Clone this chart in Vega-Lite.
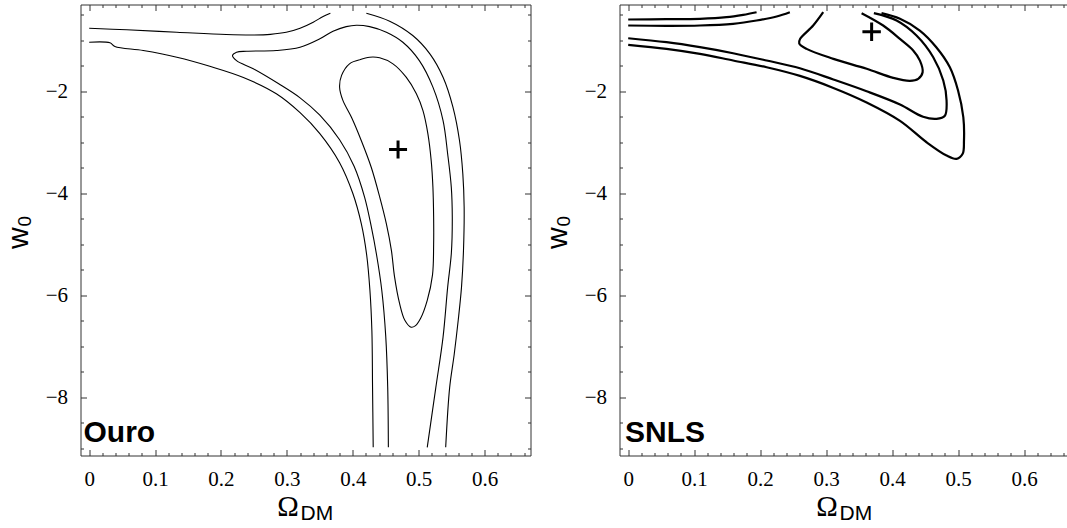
{
  "$schema": "https://vega.github.io/schema/vega-lite/v6.json",
  "background": "white",
  "padding": {"left": 3.5, "top": 3.5, "right": 0, "bottom": 0},
  "bounds": "flush",
  "spacing": 89,
  "datasets": {
    "contours": [
      {"panel":"Ouro","curve":"a","i":0,"x":0,"y":-0.765},
      {"panel":"Ouro","curve":"a","i":1,"x":0.057,"y":-0.796},
      {"panel":"Ouro","curve":"a","i":2,"x":0.133,"y":-0.843},
      {"panel":"Ouro","curve":"a","i":3,"x":0.208,"y":-0.888},
      {"panel":"Ouro","curve":"a","i":4,"x":0.25,"y":-0.897},
      {"panel":"Ouro","curve":"a","i":5,"x":0.275,"y":-0.885},
      {"panel":"Ouro","curve":"a","i":6,"x":0.299,"y":-0.845},
      {"panel":"Ouro","curve":"a","i":7,"x":0.32,"y":-0.765},
      {"panel":"Ouro","curve":"a","i":8,"x":0.34,"y":-0.647},
      {"panel":"Ouro","curve":"a","i":9,"x":0.355,"y":-0.535},
      {"panel":"Ouro","curve":"a","i":10,"x":0.366,"y":-0.47},

      {"panel":"Ouro","curve":"b","i":0,"x":0,"y":-1.039},
      {"panel":"Ouro","curve":"b","i":1,"x":0.0315,"y":-1.051},
      {"panel":"Ouro","curve":"b","i":2,"x":0.039,"y":-1.124},
      {"panel":"Ouro","curve":"b","i":3,"x":0.082,"y":-1.202},
      {"panel":"Ouro","curve":"b","i":4,"x":0.133,"y":-1.333},
      {"panel":"Ouro","curve":"b","i":5,"x":0.183,"y":-1.51},
      {"panel":"Ouro","curve":"b","i":6,"x":0.234,"y":-1.73},
      {"panel":"Ouro","curve":"b","i":7,"x":0.284,"y":-2.05},
      {"panel":"Ouro","curve":"b","i":8,"x":0.32,"y":-2.42},
      {"panel":"Ouro","curve":"b","i":9,"x":0.35,"y":-2.83},
      {"panel":"Ouro","curve":"b","i":10,"x":0.38,"y":-3.4},
      {"panel":"Ouro","curve":"b","i":11,"x":0.4,"y":-4.0},
      {"panel":"Ouro","curve":"b","i":12,"x":0.413,"y":-4.6},
      {"panel":"Ouro","curve":"b","i":13,"x":0.421,"y":-5.2},
      {"panel":"Ouro","curve":"b","i":14,"x":0.426,"y":-5.9},
      {"panel":"Ouro","curve":"b","i":15,"x":0.429,"y":-6.7},
      {"panel":"Ouro","curve":"b","i":16,"x":0.43,"y":-7.8},
      {"panel":"Ouro","curve":"b","i":17,"x":0.431,"y":-8.98},

      {"panel":"Ouro","curve":"c","i":0,"x":0.4206,"y":-0.471},
      {"panel":"Ouro","curve":"c","i":1,"x":0.456,"y":-0.627},
      {"panel":"Ouro","curve":"c","i":2,"x":0.491,"y":-0.908},
      {"panel":"Ouro","curve":"c","i":3,"x":0.517,"y":-1.267},
      {"panel":"Ouro","curve":"c","i":4,"x":0.537,"y":-1.725},
      {"panel":"Ouro","curve":"c","i":5,"x":0.552,"y":-2.31},
      {"panel":"Ouro","curve":"c","i":6,"x":0.562,"y":-2.97},
      {"panel":"Ouro","curve":"c","i":7,"x":0.567,"y":-3.62},
      {"panel":"Ouro","curve":"c","i":8,"x":0.569,"y":-4.27},
      {"panel":"Ouro","curve":"c","i":9,"x":0.568,"y":-5.12},
      {"panel":"Ouro","curve":"c","i":10,"x":0.565,"y":-5.84},
      {"panel":"Ouro","curve":"c","i":11,"x":0.56,"y":-6.49},
      {"panel":"Ouro","curve":"c","i":12,"x":0.554,"y":-7.15},
      {"panel":"Ouro","curve":"c","i":13,"x":0.547,"y":-7.81},
      {"panel":"Ouro","curve":"c","i":14,"x":0.541,"y":-8.98},

      {"panel":"Ouro","curve":"d","i":0,"x":0.454,"y":-8.98},
      {"panel":"Ouro","curve":"d","i":1,"x":0.453,"y":-7.8},
      {"panel":"Ouro","curve":"d","i":2,"x":0.45,"y":-6.8},
      {"panel":"Ouro","curve":"d","i":3,"x":0.444,"y":-5.9},
      {"panel":"Ouro","curve":"d","i":4,"x":0.436,"y":-5.2},
      {"panel":"Ouro","curve":"d","i":5,"x":0.428,"y":-4.65},
      {"panel":"Ouro","curve":"d","i":6,"x":0.418,"y":-4.08},
      {"panel":"Ouro","curve":"d","i":7,"x":0.402,"y":-3.47},
      {"panel":"Ouro","curve":"d","i":8,"x":0.38,"y":-2.95},
      {"panel":"Ouro","curve":"d","i":9,"x":0.35,"y":-2.47},
      {"panel":"Ouro","curve":"d","i":10,"x":0.32,"y":-2.13},
      {"panel":"Ouro","curve":"d","i":11,"x":0.287,"y":-1.85},
      {"panel":"Ouro","curve":"d","i":12,"x":0.249,"y":-1.56},
      {"panel":"Ouro","curve":"d","i":13,"x":0.2236,"y":-1.4},
      {"panel":"Ouro","curve":"d","i":14,"x":0.2175,"y":-1.3},
      {"panel":"Ouro","curve":"d","i":15,"x":0.2236,"y":-1.235},
      {"panel":"Ouro","curve":"d","i":16,"x":0.239,"y":-1.216},
      {"panel":"Ouro","curve":"d","i":17,"x":0.284,"y":-1.202},
      {"panel":"Ouro","curve":"d","i":18,"x":0.32,"y":-1.137},
      {"panel":"Ouro","curve":"d","i":19,"x":0.35,"y":-0.973},
      {"panel":"Ouro","curve":"d","i":20,"x":0.37,"y":-0.824},
      {"panel":"Ouro","curve":"d","i":21,"x":0.39,"y":-0.733},
      {"panel":"Ouro","curve":"d","i":22,"x":0.4055,"y":-0.706},
      {"panel":"Ouro","curve":"d","i":23,"x":0.4256,"y":-0.733},
      {"panel":"Ouro","curve":"d","i":24,"x":0.451,"y":-0.843},
      {"panel":"Ouro","curve":"d","i":25,"x":0.476,"y":-1.04},
      {"panel":"Ouro","curve":"d","i":26,"x":0.501,"y":-1.4},
      {"panel":"Ouro","curve":"d","i":27,"x":0.5216,"y":-1.92},
      {"panel":"Ouro","curve":"d","i":28,"x":0.537,"y":-2.575},
      {"panel":"Ouro","curve":"d","i":29,"x":0.544,"y":-3.23},
      {"panel":"Ouro","curve":"d","i":30,"x":0.5495,"y":-3.88},
      {"panel":"Ouro","curve":"d","i":31,"x":0.551,"y":-4.47},
      {"panel":"Ouro","curve":"d","i":32,"x":0.5496,"y":-5.17},
      {"panel":"Ouro","curve":"d","i":33,"x":0.544,"y":-5.84},
      {"panel":"Ouro","curve":"d","i":34,"x":0.537,"y":-6.82},
      {"panel":"Ouro","curve":"d","i":35,"x":0.526,"y":-7.81},
      {"panel":"Ouro","curve":"d","i":36,"x":0.513,"y":-8.98},

      {"panel":"Ouro","curve":"e","i":0,"x":0.4105,"y":-1.384},
      {"panel":"Ouro","curve":"e","i":1,"x":0.4256,"y":-1.333},
      {"panel":"Ouro","curve":"e","i":2,"x":0.4408,"y":-1.345},
      {"panel":"Ouro","curve":"e","i":3,"x":0.461,"y":-1.463},
      {"panel":"Ouro","curve":"e","i":4,"x":0.481,"y":-1.725},
      {"panel":"Ouro","curve":"e","i":5,"x":0.4965,"y":-2.05},
      {"panel":"Ouro","curve":"e","i":6,"x":0.5065,"y":-2.38},
      {"panel":"Ouro","curve":"e","i":7,"x":0.514,"y":-2.835},
      {"panel":"Ouro","curve":"e","i":8,"x":0.519,"y":-3.36},
      {"panel":"Ouro","curve":"e","i":9,"x":0.5216,"y":-3.88},
      {"panel":"Ouro","curve":"e","i":10,"x":0.5227,"y":-4.47},
      {"panel":"Ouro","curve":"e","i":11,"x":0.5227,"y":-5.0},
      {"panel":"Ouro","curve":"e","i":12,"x":0.521,"y":-5.6},
      {"panel":"Ouro","curve":"e","i":13,"x":0.513,"y":-6.1},
      {"panel":"Ouro","curve":"e","i":14,"x":0.503,"y":-6.45},
      {"panel":"Ouro","curve":"e","i":15,"x":0.4947,"y":-6.6},
      {"panel":"Ouro","curve":"e","i":16,"x":0.4885,"y":-6.625},
      {"panel":"Ouro","curve":"e","i":17,"x":0.479,"y":-6.49},
      {"panel":"Ouro","curve":"e","i":18,"x":0.471,"y":-6.16},
      {"panel":"Ouro","curve":"e","i":19,"x":0.4634,"y":-5.64},
      {"panel":"Ouro","curve":"e","i":20,"x":0.4586,"y":-5.12},
      {"panel":"Ouro","curve":"e","i":21,"x":0.451,"y":-4.6},
      {"panel":"Ouro","curve":"e","i":22,"x":0.441,"y":-4.08},
      {"panel":"Ouro","curve":"e","i":23,"x":0.428,"y":-3.49},
      {"panel":"Ouro","curve":"e","i":24,"x":0.413,"y":-2.97},
      {"panel":"Ouro","curve":"e","i":25,"x":0.398,"y":-2.51},
      {"panel":"Ouro","curve":"e","i":26,"x":0.385,"y":-2.18},
      {"panel":"Ouro","curve":"e","i":27,"x":0.38,"y":-1.92},
      {"panel":"Ouro","curve":"e","i":28,"x":0.383,"y":-1.69},
      {"panel":"Ouro","curve":"e","i":29,"x":0.395,"y":-1.463},
      {"panel":"Ouro","curve":"e","i":30,"x":0.4105,"y":-1.384},

      {"panel":"SNLS","curve":"a","i":0,"x":0.2956,"y":-0.451},
      {"panel":"SNLS","curve":"a","i":1,"x":0.2804,"y":-0.712},
      {"panel":"SNLS","curve":"a","i":2,"x":0.2607,"y":-0.973},
      {"panel":"SNLS","curve":"a","i":3,"x":0.2592,"y":-1.06},
      {"panel":"SNLS","curve":"a","i":4,"x":0.2704,"y":-1.17},
      {"panel":"SNLS","curve":"a","i":5,"x":0.311,"y":-1.365},
      {"panel":"SNLS","curve":"a","i":6,"x":0.3615,"y":-1.56},
      {"panel":"SNLS","curve":"a","i":7,"x":0.4017,"y":-1.737},
      {"panel":"SNLS","curve":"a","i":8,"x":0.427,"y":-1.796},
      {"panel":"SNLS","curve":"a","i":9,"x":0.4396,"y":-1.757},
      {"panel":"SNLS","curve":"a","i":10,"x":0.4463,"y":-1.627},
      {"panel":"SNLS","curve":"a","i":11,"x":0.4422,"y":-1.4},
      {"panel":"SNLS","curve":"a","i":12,"x":0.432,"y":-1.2},
      {"panel":"SNLS","curve":"a","i":13,"x":0.4119,"y":-0.973},
      {"panel":"SNLS","curve":"a","i":14,"x":0.3865,"y":-0.712},
      {"panel":"SNLS","curve":"a","i":15,"x":0.3538,"y":-0.47},

      {"panel":"SNLS","curve":"b","i":0,"x":0,"y":-0.712},
      {"panel":"SNLS","curve":"b","i":1,"x":0.058,"y":-0.718},
      {"panel":"SNLS","curve":"b","i":2,"x":0.1087,"y":-0.712},
      {"panel":"SNLS","curve":"b","i":3,"x":0.159,"y":-0.678},
      {"panel":"SNLS","curve":"b","i":4,"x":0.1946,"y":-0.614},
      {"panel":"SNLS","curve":"b","i":5,"x":0.225,"y":-0.535},
      {"panel":"SNLS","curve":"b","i":6,"x":0.245,"y":-0.451},

      {"panel":"SNLS","curve":"c","i":0,"x":0,"y":-0.961},
      {"panel":"SNLS","curve":"c","i":1,"x":0.058,"y":-1.039},
      {"panel":"SNLS","curve":"c","i":2,"x":0.1087,"y":-1.137},
      {"panel":"SNLS","curve":"c","i":3,"x":0.159,"y":-1.255},
      {"panel":"SNLS","curve":"c","i":4,"x":0.2098,"y":-1.398},
      {"panel":"SNLS","curve":"c","i":5,"x":0.2603,"y":-1.55},
      {"panel":"SNLS","curve":"c","i":6,"x":0.311,"y":-1.77},
      {"panel":"SNLS","curve":"c","i":7,"x":0.3614,"y":-2.0},
      {"panel":"SNLS","curve":"c","i":8,"x":0.412,"y":-2.26},
      {"panel":"SNLS","curve":"c","i":9,"x":0.447,"y":-2.5},
      {"panel":"SNLS","curve":"c","i":10,"x":0.4675,"y":-2.54},
      {"panel":"SNLS","curve":"c","i":11,"x":0.48,"y":-2.48},
      {"panel":"SNLS","curve":"c","i":12,"x":0.4826,"y":-2.18},
      {"panel":"SNLS","curve":"c","i":13,"x":0.4776,"y":-1.79},
      {"panel":"SNLS","curve":"c","i":14,"x":0.4624,"y":-1.333},
      {"panel":"SNLS","curve":"c","i":15,"x":0.437,"y":-0.908},
      {"panel":"SNLS","curve":"c","i":16,"x":0.4068,"y":-0.614},
      {"panel":"SNLS","curve":"c","i":17,"x":0.3724,"y":-0.47},

      {"panel":"SNLS","curve":"d","i":0,"x":0,"y":-0.594},
      {"panel":"SNLS","curve":"d","i":1,"x":0.058,"y":-0.588},
      {"panel":"SNLS","curve":"d","i":2,"x":0.1087,"y":-0.58},
      {"panel":"SNLS","curve":"d","i":3,"x":0.149,"y":-0.549},
      {"panel":"SNLS","curve":"d","i":4,"x":0.1743,"y":-0.502},
      {"panel":"SNLS","curve":"d","i":5,"x":0.1946,"y":-0.451},

      {"panel":"SNLS","curve":"e","i":0,"x":0,"y":-1.09},
      {"panel":"SNLS","curve":"e","i":1,"x":0.058,"y":-1.17},
      {"panel":"SNLS","curve":"e","i":2,"x":0.1087,"y":-1.268},
      {"panel":"SNLS","curve":"e","i":3,"x":0.159,"y":-1.398},
      {"panel":"SNLS","curve":"e","i":4,"x":0.2098,"y":-1.53},
      {"panel":"SNLS","curve":"e","i":5,"x":0.2603,"y":-1.7},
      {"panel":"SNLS","curve":"e","i":6,"x":0.311,"y":-1.935},
      {"panel":"SNLS","curve":"e","i":7,"x":0.3614,"y":-2.22},
      {"panel":"SNLS","curve":"e","i":8,"x":0.412,"y":-2.58},
      {"panel":"SNLS","curve":"e","i":9,"x":0.4523,"y":-3.0},
      {"panel":"SNLS","curve":"e","i":10,"x":0.4826,"y":-3.26},
      {"panel":"SNLS","curve":"e","i":11,"x":0.4978,"y":-3.325},
      {"panel":"SNLS","curve":"e","i":12,"x":0.507,"y":-3.227},
      {"panel":"SNLS","curve":"e","i":13,"x":0.509,"y":-2.967},
      {"panel":"SNLS","curve":"e","i":14,"x":0.508,"y":-2.51},
      {"panel":"SNLS","curve":"e","i":15,"x":0.5,"y":-1.986},
      {"panel":"SNLS","curve":"e","i":16,"x":0.4876,"y":-1.53},
      {"panel":"SNLS","curve":"e","i":17,"x":0.467,"y":-1.137},
      {"panel":"SNLS","curve":"e","i":18,"x":0.442,"y":-0.81},
      {"panel":"SNLS","curve":"e","i":19,"x":0.412,"y":-0.58},
      {"panel":"SNLS","curve":"e","i":20,"x":0.384,"y":-0.47}
    ],
    "best": [
      {"panel":"Ouro","x":0.4687,"y":-3.143},
      {"panel":"SNLS","x":0.369,"y":-0.835}
    ],
    "labels": [
      {"panel":"Ouro","label":"Ouro"},
      {"panel":"SNLS","label":"SNLS"}
    ]
  },
  "hconcat": [
    {
      "width": 450,
      "height": 451,
      "layer": [
        {
          "data": {"name": "contours"},
          "transform": [{"filter": "datum.panel === 'Ouro'"}],
          "mark": {"type": "line", "color": "black", "strokeWidth": 1.1, "interpolate": "catmull-rom"},
          "encoding": {
            "x": {"field": "x", "type": "quantitative", "scale": {"domain": [-0.0132, 0.6697], "nice": false, "zero": false},
              "axis": {"orient": "bottom", "values": [0,0.02,0.04,0.06,0.08,0.1,0.12,0.14,0.16,0.18,0.2,0.22,0.24,0.26,0.28,0.3,0.32,0.34,0.36,0.38,0.4,0.42,0.44,0.46,0.48,0.5,0.52,0.54,0.56,0.58,0.6,0.62,0.64,0.66],
                "labelExpr": "abs(datum.value*10 - round(datum.value*10)) < 0.001 ? format(datum.value, '.1~f') : ''",
                "tickSize": {"condition": {"test": "abs(datum.value*10 - round(datum.value*10)) < 0.001", "value": -6}, "value": -3},
                "labelFont": "Liberation Serif", "labelFontSize": 21, "labelColor": "black",
                "labelPadding": 19, "labelBaseline": "top", "labelAlign": "center",
                "title": "Ω", "titleFont": "Liberation Serif", "titleFontSize": 29, "titleFontWeight": "normal", "titleColor": "black",
                "titleX": 207, "titleY": 60, "titleAlign": "center", "titleBaseline": "alphabetic", "titleAngle": 0}},
            "y": {"field": "y", "type": "quantitative", "scale": {"domain": [-9.14, -0.3], "nice": false, "zero": false},
              "axis": {"orient": "left", "values": [-9,-8.5,-8,-7.5,-7,-6.5,-6,-5.5,-5,-4.5,-4,-3.5,-3,-2.5,-2,-1.5,-1,-0.5],
                "labelExpr": "datum.value % 2 === 0 ? replace(format(datum.value, 'd'), '-', '−') : ''",
                "tickSize": {"condition": {"test": "datum.value % 2 === 0", "value": -6}, "value": -3},
                "labelFont": "Liberation Serif", "labelFontSize": 21, "labelColor": "black",
                "labelPadding": 19, "labelAlign": "right", "labelBaseline": "middle",
                "title": "w₀", "titleFont": "Liberation Sans", "titleFontSize": 30, "titleFontWeight": "normal", "titleColor": "black",
                "titleX": -53, "titleY": 227, "titleAngle": -90, "titleAlign": "center", "titleBaseline": "alphabetic"}},
            "detail": {"field": "curve"},
            "order": {"field": "i", "type": "quantitative"}
          }
        },
        {
          "data": {"name": "best"},
          "transform": [{"filter": "datum.panel === 'Ouro'"}],
          "mark": {"type": "point", "shape": "M-1,0L1,0M0,-1L0,1", "size": 324, "filled": false, "stroke": "black", "strokeWidth": 3, "opacity": 1},
          "encoding": {
            "x": {"field": "x", "type": "quantitative", "scale": {"domain": [-0.0132, 0.6697], "nice": false, "zero": false},
              "axis": {"orient": "top", "values": [0,0.02,0.04,0.06,0.08,0.1,0.12,0.14,0.16,0.18,0.2,0.22,0.24,0.26,0.28,0.3,0.32,0.34,0.36,0.38,0.4,0.42,0.44,0.46,0.48,0.5,0.52,0.54,0.56,0.58,0.6,0.62,0.64,0.66],
                "labels": false,
                "tickSize": {"condition": {"test": "abs(datum.value*10 - round(datum.value*10)) < 0.001", "value": -6}, "value": -3},
                "title": "DM", "titleFont": "Liberation Sans", "titleFontSize": 21, "titleFontWeight": "normal", "titleColor": "black",
                "titleX": 219.5, "titleY": 515, "titleAlign": "left", "titleBaseline": "alphabetic", "titleAngle": 0}},
            "y": {"field": "y", "type": "quantitative", "scale": {"domain": [-9.14, -0.3], "nice": false, "zero": false},
              "axis": {"orient": "right", "values": [-9,-8.5,-8,-7.5,-7,-6.5,-6,-5.5,-5,-4.5,-4,-3.5,-3,-2.5,-2,-1.5,-1,-0.5],
                "labels": false, "title": null,
                "tickSize": {"condition": {"test": "datum.value % 2 === 0", "value": -6}, "value": -3}}}
          }
        },
        {
          "data": {"name": "labels"},
          "transform": [{"filter": "datum.panel === 'Ouro'"}],
          "mark": {"type": "text", "font": "Liberation Sans", "fontWeight": "bold", "fontSize": 30, "align": "left", "baseline": "alphabetic", "color": "black"},
          "encoding": {
            "x": {"datum": -0.0087, "type": "quantitative", "axis": null},
            "y": {"datum": -8.88, "type": "quantitative", "axis": null},
            "text": {"field": "label"}
          }
        }
      ],
      "resolve": {"axis": {"x": "independent", "y": "independent"}}
    },
    {
      "width": 447,
      "height": 451,
      "layer": [
        {
          "data": {"name": "contours"},
          "transform": [{"filter": "datum.panel === 'SNLS'"}],
          "mark": {"type": "line", "color": "black", "strokeWidth": 2.2, "interpolate": "catmull-rom"},
          "encoding": {
            "x": {"field": "x", "type": "quantitative", "scale": {"domain": [-0.0132, 0.6644], "nice": false, "zero": false},
              "axis": {"orient": "bottom", "values": [0,0.02,0.04,0.06,0.08,0.1,0.12,0.14,0.16,0.18,0.2,0.22,0.24,0.26,0.28,0.3,0.32,0.34,0.36,0.38,0.4,0.42,0.44,0.46,0.48,0.5,0.52,0.54,0.56,0.58,0.6,0.62,0.64,0.66],
                "labelExpr": "abs(datum.value*10 - round(datum.value*10)) < 0.001 ? format(datum.value, '.1~f') : ''",
                "tickSize": {"condition": {"test": "abs(datum.value*10 - round(datum.value*10)) < 0.001", "value": -6}, "value": -3},
                "labelFont": "Liberation Serif", "labelFontSize": 21, "labelColor": "black",
                "labelPadding": 19, "labelBaseline": "top", "labelAlign": "center",
                "title": "Ω", "titleFont": "Liberation Serif", "titleFontSize": 29, "titleFontWeight": "normal", "titleColor": "black",
                "titleX": 207, "titleY": 60, "titleAlign": "center", "titleBaseline": "alphabetic", "titleAngle": 0}},
            "y": {"field": "y", "type": "quantitative", "scale": {"domain": [-9.14, -0.3], "nice": false, "zero": false},
              "axis": {"orient": "left", "values": [-9,-8.5,-8,-7.5,-7,-6.5,-6,-5.5,-5,-4.5,-4,-3.5,-3,-2.5,-2,-1.5,-1,-0.5],
                "labelExpr": "datum.value % 2 === 0 ? replace(format(datum.value, 'd'), '-', '−') : ''",
                "tickSize": {"condition": {"test": "datum.value % 2 === 0", "value": -6}, "value": -3},
                "labelFont": "Liberation Serif", "labelFontSize": 21, "labelColor": "black",
                "labelPadding": 19, "labelAlign": "right", "labelBaseline": "middle",
                "title": "w₀", "titleFont": "Liberation Sans", "titleFontSize": 30, "titleFontWeight": "normal", "titleColor": "black",
                "titleX": -53, "titleY": 227, "titleAngle": -90, "titleAlign": "center", "titleBaseline": "alphabetic"}},
            "detail": {"field": "curve"},
            "order": {"field": "i", "type": "quantitative"}
          }
        },
        {
          "data": {"name": "best"},
          "transform": [{"filter": "datum.panel === 'SNLS'"}],
          "mark": {"type": "point", "shape": "M-1,0L1,0M0,-1L0,1", "size": 340, "filled": false, "stroke": "black", "strokeWidth": 3, "opacity": 1},
          "encoding": {
            "x": {"field": "x", "type": "quantitative", "scale": {"domain": [-0.0132, 0.6644], "nice": false, "zero": false},
              "axis": {"orient": "top", "values": [0,0.02,0.04,0.06,0.08,0.1,0.12,0.14,0.16,0.18,0.2,0.22,0.24,0.26,0.28,0.3,0.32,0.34,0.36,0.38,0.4,0.42,0.44,0.46,0.48,0.5,0.52,0.54,0.56,0.58,0.6,0.62,0.64,0.66],
                "labels": false,
                "tickSize": {"condition": {"test": "abs(datum.value*10 - round(datum.value*10)) < 0.001", "value": -6}, "value": -3},
                "title": "DM", "titleFont": "Liberation Sans", "titleFontSize": 21, "titleFontWeight": "normal", "titleColor": "black",
                "titleX": 219.5, "titleY": 515, "titleAlign": "left", "titleBaseline": "alphabetic", "titleAngle": 0}},
            "y": {"field": "y", "type": "quantitative", "scale": {"domain": [-9.14, -0.3], "nice": false, "zero": false}, "axis": null}
          }
        },
        {
          "data": {"name": "labels"},
          "transform": [{"filter": "datum.panel === 'SNLS'"}],
          "mark": {"type": "text", "font": "Liberation Sans", "fontWeight": "bold", "fontSize": 30, "align": "left", "baseline": "alphabetic", "color": "black"},
          "encoding": {
            "x": {"datum": -0.0047, "type": "quantitative", "axis": null},
            "y": {"datum": -8.88, "type": "quantitative", "axis": null},
            "text": {"field": "label"}
          }
        }
      ],
      "resolve": {"axis": {"x": "independent", "y": "independent"}}
    }
  ],
  "config": {
    "view": {"stroke": null},
    "axis": {
      "grid": false,
      "domainColor": "#333333",
      "domainWidth": 1,
      "tickColor": "#333333",
      "tickWidth": 1,
      "labelOverlap": false,
      "labelFlush": false,
      "labelBound": false
    }
  }
}
